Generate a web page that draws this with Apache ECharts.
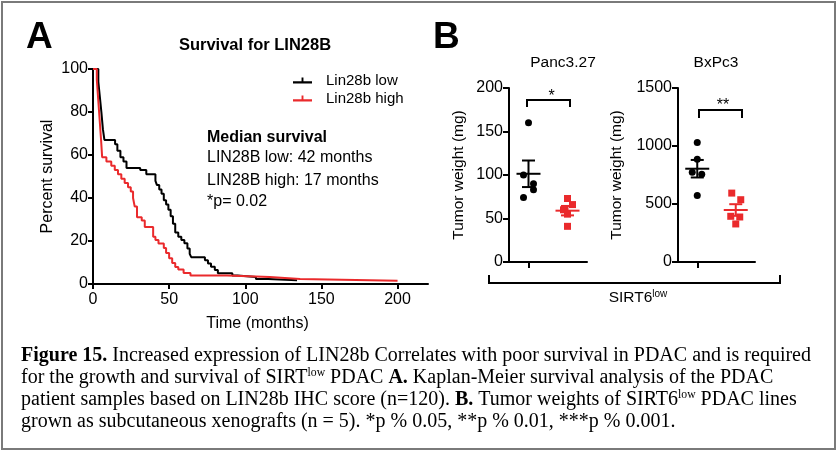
<!DOCTYPE html>
<html><head><meta charset="utf-8">
<script src="https://cdn.jsdelivr.net/npm/echarts@6/dist/echarts.min.js"></script>
<style>html,body{margin:0;padding:0;background:#fff}#c{width:840px;height:452px}</style>
</head><body><div id="c"></div>
<script>
// ---------- Panel A: Kaplan-Meier (time in months, percent survival) ----------
const lowTimes     = [0, 3.5, 4.5, 5.5, 6.5, 7.5, 14.5, 16, 18, 20, 22, 31, 35, 41, 42, 43.5, 45, 46.5, 48, 49.5, 51, 52.5, 54, 56, 58, 60, 62, 63.5, 64.5, 73.5, 75.5, 77.5, 80, 82, 91.5, 95, 107, 115, 134];
const lowSurvival  = [100, 94, 87, 80, 72, 67, 65, 62, 59, 57, 54, 53, 51, 48, 46, 44, 42, 39, 37, 34.5, 31.5, 28, 24, 22, 20.5, 19, 16.5, 14, 12.5, 11, 9.5, 8, 6.5, 5, 4, 3.3, 2.3, 1.7, 1.7];
const highTimes    = [0, 2.5, 3.5, 4.5, 5.3, 6, 8.8, 12, 14.3, 16.4, 18.6, 20.8, 23, 24.8, 26.3, 27.4, 28.9, 32, 34, 39.5, 41, 43, 46.5, 48, 50, 52, 54, 56, 59.5, 64, 88, 116, 136, 200];
const highSurvival = [100, 95, 85, 75, 67, 59, 57, 55, 53, 51, 49, 47, 45, 43, 40, 36, 31, 29.5, 26.5, 22, 20.5, 18.8, 16.7, 14.4, 12, 9.8, 7.9, 6.7, 5.1, 4, 3.2, 2.3, 1.5, 1.5];
const timeTicks = [0, 50, 100, 150, 200];
const seriesNamesA = ['Lin28b low', 'Lin28b high'];

// ---------- Panel B: tumor weights (mg) ----------
const groups = ['Group 1', 'Group 2'];
const pancLow  = [160, 100, 90, 83, 74];
const pancHigh = [73, 66, 60, 55, 41];
const bxpcLow  = [1031, 885, 774, 757, 574];
const bxpcHigh = [594, 537, 394, 388, 328];

// horizontal jitter (pixels, styling only)
const jitPancLow  = [0, -5, 5, 5, -5];
const jitPancHigh = [0, 5, -4, 0, 0];
const jitBxpcLow  = [0, 0, -5, 4.5, 0];
const jitBxpcHigh = [-4, 5, -5, 4, 0];

const F = 'Arial, "Liberation Sans", Helvetica, sans-serif';
const SERIF = '"Liberation Serif", "Times New Roman", serif';
const RED = '#ea2a2c';

function meanSem(a) {
  const n = a.length, m = a.reduce((s, v) => s + v, 0) / n;
  const sd = Math.sqrt(a.reduce((s, v) => s + (v - m) * (v - m), 0) / (n - 1));
  return [m, sd / Math.sqrt(n)];
}
function semRender(halfMean, halfCap, color) {
  return function (params, api) {
    const x = api.value(0), m = api.value(1), s = api.value(2);
    const pm = api.coord([x, m]), pt = api.coord([x, m + s]), pb = api.coord([x, m - s]);
    const st = { stroke: color, lineWidth: 2 };
    return { type: 'group', children: [
      { type: 'line', shape: { x1: pm[0] - halfMean, y1: pm[1], x2: pm[0] + halfMean, y2: pm[1] }, style: st },
      { type: 'line', shape: { x1: pt[0], y1: pt[1], x2: pb[0], y2: pb[1] }, style: st },
      { type: 'line', shape: { x1: pt[0] - halfCap, y1: pt[1], x2: pt[0] + halfCap, y2: pt[1] }, style: st },
      { type: 'line', shape: { x1: pb[0] - halfCap, y1: pb[1], x2: pb[0] + halfCap, y2: pb[1] }, style: st }
    ]};
  };
}
function scatter(vals, jit, cat, xi, sym, color) {
  return { type: 'scatter', xAxisIndex: xi, yAxisIndex: xi, symbol: sym, symbolSize: 7,
    itemStyle: { color: color, opacity: 1 }, z: 3,
    data: vals.map((v, i) => ({ value: [groups[cat], v], symbolOffset: [jit[i], 0] })) };
}
function semSeries(vals, cat, xi, color) {
  const ms = meanSem(vals);
  return { type: 'custom', xAxisIndex: xi, yAxisIndex: xi, z: 4, encode: { x: 0, y: 1 },
    renderItem: semRender(12, 6.5, color), data: [[cat, ms[0], ms[1]]] };
}

const axLine = { show: true, lineStyle: { color: '#000', width: 2 } };
const tick = (len) => ({ show: true, length: len, lineStyle: { color: '#000', width: 2 } });
const gridBase = { outerBoundsMode: 'none', containLabel: false, show: false };
const plainNum = v => String(v);

// caption measurement for horizontal scale
const CAPFS = 20.5;
const ctx = document.createElement('canvas').getContext('2d');
function tw(t, bold) { ctx.font = (bold ? 'bold ' : '') + CAPFS + 'px ' + SERIF; return ctx.measureText(t).width; }
const cap1a = 'Figure 15.';
const cap1b = ' Increased expression of LIN28b Correlates with poor survival in PDAC and is required';
const capScale = 790 / (tw(cap1a, true) + tw(cap1b, false));
const capRich = {
  n: { fontSize: CAPFS, fontFamily: SERIF, fontWeight: 'normal', lineHeight: 22, fill: '#000' },
  b: { fontSize: CAPFS, fontFamily: SERIF, fontWeight: 'bold', lineHeight: 22, fill: '#000' },
  s: { fontSize: 12, fontFamily: SERIF, fontWeight: 'normal', lineHeight: 12, fill: '#000', verticalAlign: 'top' }
};
const capLines = [
  '{b|' + cap1a + '}{n|' + cap1b + '}',
  '{n|for the growth and survival of SIRT}{s|low}{n| PDAC }{b|A.}{n| Kaplan-Meier survival analysis of the PDAC}',
  '{n|patient samples based on LIN28b IHC score (n=120). }{b|B.}{n| Tumor weights of SIRT6}{s|low}{n| PDAC lines}',
  '{n|grown as subcutaneous xenografts (n = 5). *p % 0.05, **p % 0.01, ***p % 0.001.}'
];
const capY = [356, 378, 400, 422];

function txt(x, y, text, size, opts) {
  return Object.assign({ type: 'text', x: x, y: y, silent: true,
    style: Object.assign({ text: text, fontSize: size, fontFamily: F, fill: '#000', align: 'left', verticalAlign: 'middle' }, opts || {}) });
}
function poly(points) {
  return { type: 'polyline', silent: true, shape: { points: points }, style: { stroke: '#000', lineWidth: 2, fill: null } };
}

const graphic = [
  { type: 'rect', silent: true, shape: { x: 2, y: 2, width: 833, height: 447 }, style: { fill: null, stroke: '#7a7a7a', lineWidth: 2 } },
  txt(26, 38, 'A', 37, { fontWeight: 'bold' }),
  txt(433, 38, 'B', 37, { fontWeight: 'bold' }),
  txt(255, 45, 'Survival for LIN28B', 16.5, { fontWeight: 'bold', align: 'center' }),
  txt(207, 138, 'Median survival', 16, { fontWeight: 'bold' }),
  txt(207, 158, 'LIN28B low: 42 months', 16),
  txt(207, 181, 'LIN28B high: 17 months', 16),
  txt(207, 202, '*p= 0.02', 16),
  txt(563, 63, 'Panc3.27', 15.5, { align: 'center' }),
  txt(716, 63, 'BxPc3', 15.5, { align: 'center' }),
  poly([[527, 107], [527, 100], [570, 100], [570, 107]]),
  txt(551.5, 97, '*', 16, { align: 'center' }),
  poly([[699, 118], [699, 110], [742, 110], [742, 118]]),
  txt(723, 106, '**', 16, { align: 'center' }),
  poly([[489, 275], [489, 283], [780, 283], [780, 275]]),
  { type: 'text', x: 638, y: 298, silent: true, style: { text: '{n|SIRT6}{s|low}', align: 'center', verticalAlign: 'middle',
      rich: { n: { fontSize: 15.5, fontFamily: F, lineHeight: 18, fill: '#000' },
              s: { fontSize: 10, fontFamily: F, lineHeight: 10, fill: '#000', verticalAlign: 'top' } } } }
];
capLines.forEach((t, i) => graphic.push({ type: 'text', x: 21, y: capY[i], scaleX: capScale, silent: true,
  style: { text: t, rich: capRich, align: 'left', verticalAlign: 'middle', fontFamily: SERIF, fontSize: CAPFS } }));

const option = {
  animation: false,
  backgroundColor: '#fff',
  textStyle: { fontFamily: F },
  legend: {
    left: 288, top: 68, orient: 'vertical', itemWidth: 19, itemHeight: 7, itemGap: 3,
    icon: 'path://M0,5H20V7.4H0Z M9,1H11V5H9Z',
    textStyle: { fontSize: 15, color: '#000', fontFamily: F, padding: [0, 0, 0, 9] },
    data: seriesNamesA
  },
  grid: [
    Object.assign({ left: 93, top: 69, width: 335, height: 215 }, gridBase),
    Object.assign({ left: 509, top: 88, width: 78, height: 174 }, gridBase),
    Object.assign({ left: 678, top: 88, width: 77, height: 174 }, gridBase)
  ],
  xAxis: [
    { gridIndex: 0, type: 'value', min: 0, max: 220, interval: 50,
      name: 'Time (months)', nameLocation: 'middle', nameGap: 32, nameMoveOverlap: false,
      nameTextStyle: { fontSize: 16, color: '#000', fontFamily: F, padding: [0, 6, 0, 0] },
      axisLine: axLine, axisTick: Object.assign(tick(5), { customValues: timeTicks }),
      axisLabel: { customValues: timeTicks, fontSize: 16, color: '#000', margin: 8, fontFamily: F,
        formatter: v => (v % 50 === 0 ? String(v) : '') },
      splitLine: { show: false } },
    { gridIndex: 1, type: 'category', data: groups, boundaryGap: true, axisLine: axLine,
      axisTick: Object.assign(tick(6), { alignWithLabel: true }), axisLabel: { show: false }, splitLine: { show: false } },
    { gridIndex: 2, type: 'category', data: groups, boundaryGap: true, axisLine: axLine,
      axisTick: Object.assign(tick(6), { alignWithLabel: true }), axisLabel: { show: false }, splitLine: { show: false } }
  ],
  yAxis: [
    { gridIndex: 0, type: 'value', min: 0, max: 100, interval: 20,
      name: 'Percent survival', nameLocation: 'middle', nameGap: 37, nameMoveOverlap: false,
      nameTextStyle: { fontSize: 16, color: '#000', fontFamily: F },
      axisLine: axLine, axisTick: tick(5), axisLabel: { fontSize: 16, color: '#000', margin: 5, fontFamily: F, formatter: plainNum },
      splitLine: { show: false } },
    { gridIndex: 1, type: 'value', min: 0, max: 200, interval: 50,
      name: 'Tumor weight (mg)', nameLocation: 'middle', nameGap: 42, nameMoveOverlap: false,
      nameTextStyle: { fontSize: 15.5, color: '#000', fontFamily: F },
      axisLine: axLine, axisTick: tick(6), axisLabel: { fontSize: 16, color: '#000', margin: 6, fontFamily: F, formatter: plainNum },
      splitLine: { show: false } },
    { gridIndex: 2, type: 'value', min: 0, max: 1500, interval: 500,
      name: 'Tumor weight (mg)', nameLocation: 'middle', nameGap: 53, nameMoveOverlap: false,
      nameTextStyle: { fontSize: 15.5, color: '#000', fontFamily: F },
      axisLine: axLine, axisTick: tick(6), axisLabel: { fontSize: 16, color: '#000', margin: 6, fontFamily: F, formatter: plainNum },
      splitLine: { show: false } }
  ],
  series: [
    { type: 'line', name: seriesNamesA[0], xAxisIndex: 0, yAxisIndex: 0, step: 'end', symbol: 'none', showSymbol: false,
      data: lowTimes.map((t, i) => [t, lowSurvival[i]]), lineStyle: { color: '#000', width: 2 }, itemStyle: { color: '#000' }, z: 2 },
    { type: 'line', name: seriesNamesA[1], xAxisIndex: 0, yAxisIndex: 0, step: 'end', symbol: 'none', showSymbol: false,
      data: highTimes.map((t, i) => [t, highSurvival[i]]), lineStyle: { color: RED, width: 2 }, itemStyle: { color: RED }, z: 3 },
    scatter(pancLow, jitPancLow, 0, 1, 'circle', '#000'),
    scatter(pancHigh, jitPancHigh, 1, 1, 'rect', RED),
    scatter(bxpcLow, jitBxpcLow, 0, 2, 'circle', '#000'),
    scatter(bxpcHigh, jitBxpcHigh, 1, 2, 'rect', RED),
    semSeries(pancLow, 0, 1, '#000'),
    semSeries(pancHigh, 1, 1, RED),
    semSeries(bxpcLow, 0, 2, '#000'),
    semSeries(bxpcHigh, 1, 2, RED)
  ],
  graphic: graphic
};
const chart = echarts.init(document.getElementById('c'), null, { renderer: 'canvas' });
chart.setOption(option);
</script>
</body></html>
